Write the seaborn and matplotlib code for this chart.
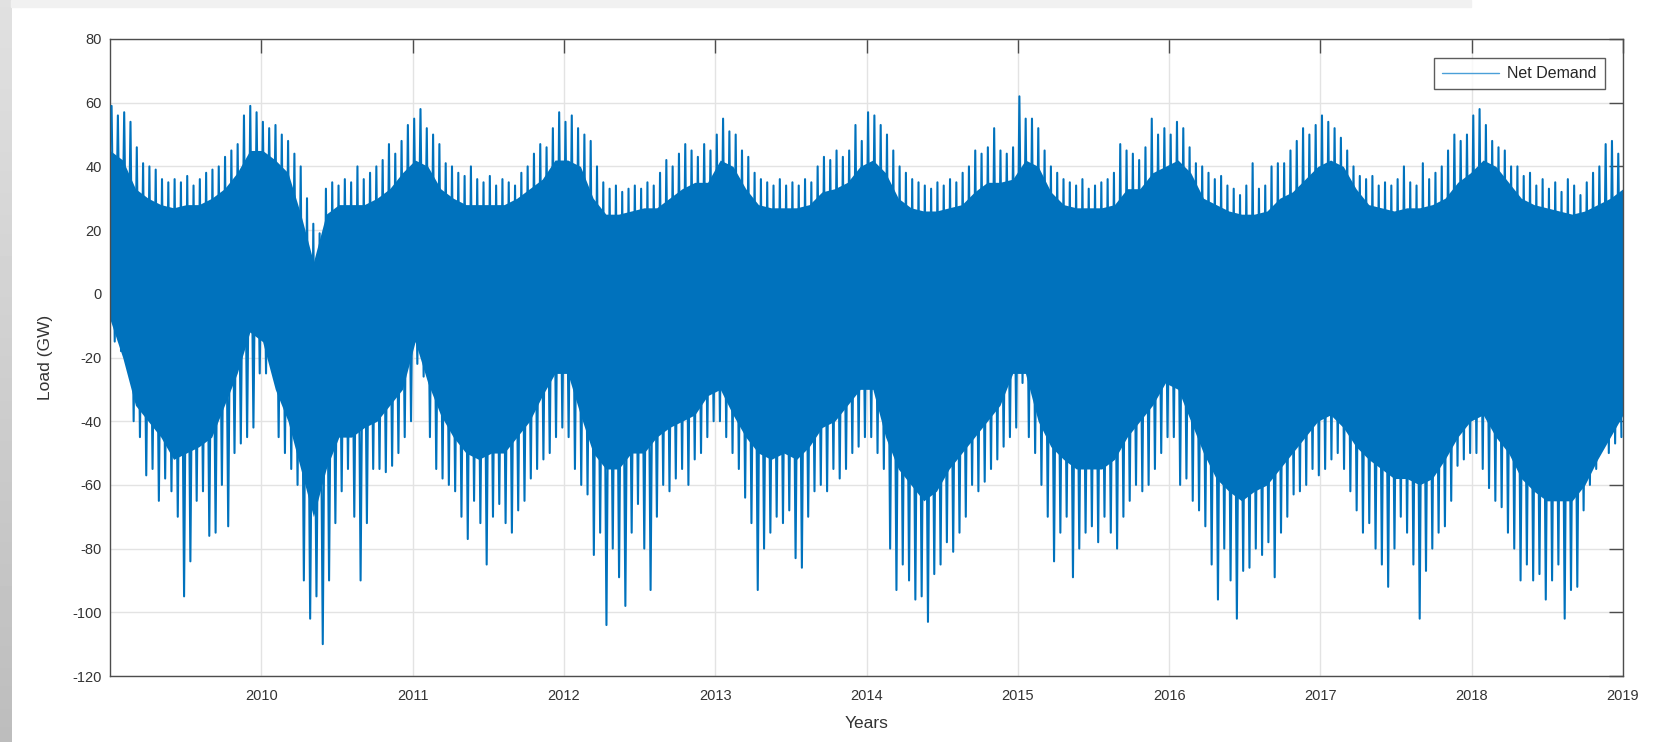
import numpy as np
import pandas as pd
import matplotlib
matplotlib.use("Agg")
import matplotlib.pyplot as plt
import seaborn as sns
from matplotlib.patches import Rectangle

# Semi-monthly spike tops (GW), two values per month, one row per year 2009-2018
peak_hi = [
    59, 56, 57, 54, 46, 41, 40, 39, 36, 35, 36, 35, 37, 34, 36, 38, 39, 40, 43, 45, 47, 56, 59, 57,
    54, 52, 53, 50, 48, 44, 40, 30, 22, 19, 33, 35, 34, 36, 35, 40, 36, 38, 40, 42, 47, 44, 48, 53,
    55, 58, 52, 50, 47, 41, 40, 38, 37, 40, 36, 35, 37, 34, 36, 35, 34, 38, 40, 44, 47, 46, 52, 57,
    54, 56, 52, 50, 48, 40, 35, 33, 34, 32, 33, 34, 33, 35, 34, 38, 42, 40, 44, 47, 45, 43, 47, 45,
    50, 55, 51, 50, 45, 43, 38, 36, 35, 34, 36, 34, 35, 34, 36, 35, 40, 43, 42, 45, 43, 45, 53, 48,
    57, 56, 53, 50, 45, 40, 38, 36, 35, 34, 33, 35, 34, 36, 35, 38, 40, 45, 44, 46, 52, 45, 44, 46,
    62, 55, 55, 52, 45, 40, 38, 36, 35, 34, 36, 33, 34, 35, 36, 38, 47, 45, 44, 42, 46, 55, 50, 52,
    50, 54, 52, 46, 41, 40, 38, 36, 37, 34, 33, 31, 34, 41, 33, 34, 40, 41, 41, 45, 48, 52, 50, 53,
    56, 54, 52, 49, 45, 40, 37, 36, 37, 34, 35, 34, 36, 40, 35, 34, 41, 36, 38, 40, 45, 50, 48, 50,
    56, 58, 53, 48, 46, 45, 40, 40, 37, 38, 34, 36, 33, 35, 32, 36, 34, 31, 35, 38, 40, 47, 48, 44,
]

# Semi-monthly spike bottoms (GW)
trough_lo = [
    -15, -18, -22, -40, -45, -57, -55, -65, -58, -62, -70, -95, -84, -65, -62, -76, -75, -60, -73, -50, -47, -45, -42, -25,
    -25, -20, -45, -50, -55, -60, -90, -102, -95, -110, -90, -72, -62, -55, -70, -90, -72, -55, -55, -56, -54, -50, -45, -40,
    -22, -26, -45, -55, -58, -60, -62, -70, -77, -65, -72, -85, -70, -66, -72, -75, -68, -65, -58, -55, -52, -50, -45, -42,
    -45, -55, -60, -63, -82, -75, -104, -80, -89, -98, -75, -66, -80, -93, -70, -60, -62, -58, -55, -60, -52, -50, -45, -40,
    -40, -45, -50, -55, -64, -72, -93, -80, -75, -70, -72, -68, -83, -86, -70, -62, -60, -62, -55, -58, -55, -50, -48, -45,
    -45, -50, -55, -80, -93, -85, -90, -96, -95, -103, -88, -85, -78, -81, -75, -70, -60, -62, -59, -55, -52, -48, -45, -42,
    -28, -45, -50, -60, -70, -84, -75, -70, -89, -80, -75, -73, -78, -70, -75, -80, -70, -65, -60, -62, -60, -55, -50, -45,
    -45, -60, -58, -65, -68, -73, -85, -96, -80, -90, -102, -87, -86, -80, -82, -78, -89, -75, -70, -63, -62, -60, -55, -57,
    -55, -52, -50, -55, -62, -68, -75, -72, -80, -85, -92, -80, -70, -75, -85, -102, -87, -80, -75, -73, -65, -54, -52, -50,
    -50, -55, -61, -65, -67, -75, -80, -90, -85, -90, -88, -96, -90, -85, -102, -93, -92, -68, -60, -55, -45, -50, -47, -45,
]

# Monthly edges of the solid band (GW)
core_hi = [
    45, 42, 33, 30, 28, 27, 28, 28, 30, 33, 38, 45,
    45, 42, 38, 25, 10, 25, 28, 28, 28, 30, 33, 38,
    42, 40, 33, 30, 28, 28, 28, 28, 30, 33, 36, 42,
    42, 40, 30, 25, 25, 26, 27, 27, 30, 33, 35, 35,
    42, 40, 33, 28, 27, 27, 27, 28, 32, 33, 35, 40,
    42, 38, 30, 27, 26, 26, 27, 28, 32, 35, 35, 36,
    42, 40, 32, 28, 27, 27, 27, 28, 33, 33, 38, 40,
    42, 38, 30, 28, 26, 25, 25, 26, 30, 32, 36, 40,
    42, 40, 33, 28, 27, 26, 27, 27, 28, 30, 35, 38,
    42, 40, 35, 30, 28, 27, 26, 25, 26, 28, 30, 33,
]
core_lo = [
    -8, -20, -35, -40, -45, -52, -50, -48, -45, -35, -25, -12,
    -15, -30, -40, -55, -70, -55, -45, -45, -42, -40, -35, -30,
    -15, -28, -38, -45, -50, -52, -50, -50, -45, -40, -32, -25,
    -25, -38, -50, -55, -55, -50, -50, -45, -42, -40, -38, -32,
    -30, -38, -45, -50, -52, -50, -52, -48, -42, -40, -35, -30,
    -30, -45, -55, -60, -65, -62, -55, -50, -45, -40, -35, -25,
    -25, -40, -48, -52, -55, -55, -55, -52, -45, -40, -35, -28,
    -30, -40, -50, -58, -62, -65, -62, -60, -55, -50, -45, -40,
    -38, -42, -48, -52, -55, -58, -58, -60, -58, -52, -45, -40,
    -38, -45, -50, -58, -62, -65, -65, -65, -60, -52, -45, -38,
]

year_ticks = list(range(2010, 2020))
load_ticks = list(range(-120, 81, 20))

blue = "#0072BD"

# half-month centres on a decimal-year axis, monthly band spread over the full decade
t_half = 2009 + (np.arange(len(peak_hi)) + 0.5) / 24
t_month = 2009 + np.arange(len(core_hi)) * 10 / (len(core_hi) - 1)

# interleave tops and bottoms so the line swings between them
df = pd.DataFrame({
    "Years": np.column_stack([t_half - 1 / 96, t_half + 1 / 96]).ravel(),
    "Load": np.column_stack([peak_hi, trough_lo]).ravel(),
})

sns.set_style("white")
plt.rcParams["font.family"] = ["Liberation Sans", "DejaVu Sans"]
plt.rcParams["axes.unicode_minus"] = False

fig = plt.figure(figsize=(16.6, 7.42), dpi=100)
fig.patch.set_facecolor("white")

# grey border left over from the slide
grad = np.linspace(0.88, 0.74, 200).reshape(-1, 1)
bg = fig.add_axes([0, 0, 11 / 1660, 1])
bg.imshow(grad, cmap="gray", vmin=0, vmax=1, aspect="auto")
bg.axis("off")
fig.patches.append(Rectangle((11 / 1660, 1 - 7 / 742), 1460 / 1660, 7 / 742,
                             transform=fig.transFigure, color="#f1f1f1", zorder=0))

ax = fig.add_axes([110 / 1660, 66 / 742, 1513 / 1660, 637 / 742])

ax.fill_between(t_month, core_lo, core_hi, color=blue, linewidth=0, zorder=2)
sns.lineplot(data=df, x="Years", y="Load", ax=ax, color=blue, linewidth=1.5,
             estimator=None, sort=False, label="Net Demand", zorder=3)

ax.set_xlim(2009, 2019)
ax.set_ylim(-120, 80)
ax.set_xticks(year_ticks)
ax.set_xticklabels([str(y) for y in year_ticks])
ax.set_yticks(load_ticks)
ax.grid(True, color="#e3e3e3", linewidth=1.0, zorder=0)
ax.set_axisbelow(True)

for s in ax.spines.values():
    s.set_color("#4d4d4d")
    s.set_linewidth(1.0)
ax.tick_params(direction="in", length=10, width=1.0, color="#4d4d4d",
               top=True, right=True, labelsize=10.5, labelcolor="#333333")
ax.tick_params(axis="x", pad=9)
ax.tick_params(axis="y", pad=6)

ax.set_xlabel("Years", fontsize=12.5, color="#333333", labelpad=10)
ax.set_ylabel("Load (GW)", fontsize=12.5, color="#333333", labelpad=14)

leg = ax.legend(loc="upper right", bbox_to_anchor=(0.988, 0.970), borderaxespad=0,
                fontsize=11.5, frameon=True, fancybox=False, handlelength=3.6,
                handletextpad=0.5, borderpad=0.5)
leg.get_frame().set_edgecolor("#333333")
leg.get_frame().set_linewidth(1.0)
for ln in leg.get_lines():
    ln.set_linewidth(1.0)
    ln.set_color("#4a9fd8")

fig.savefig("out.png", dpi=100)
